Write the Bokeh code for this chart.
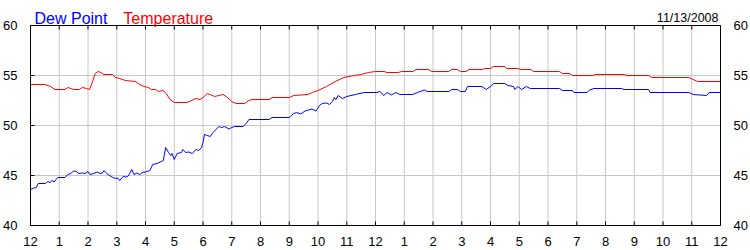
from bokeh.plotting import figure
from bokeh.models import Range1d, LinearAxis, FixedTicker, Label
from bokeh.embed import file_html
from bokeh.resources import INLINE

# ---- data (hours since midnight, degrees F) ----
temp_hours = [0.0, 0.5, 0.7, 0.85, 1.2, 1.3, 1.4, 1.5, 1.7, 1.8, 1.95, 2.05, 2.15, 2.25, 2.35, 2.45,
              2.55, 2.85, 2.95, 3.1, 3.3, 3.65, 3.8, 3.95, 4.1, 4.2, 4.35, 4.45, 4.6, 4.7, 4.85, 5.0,
              5.45, 5.6, 5.75, 5.9, 6.0, 6.15, 6.25, 6.4, 6.55, 6.7, 6.85, 7.0, 7.15, 7.45, 7.6, 7.7,
              8.3, 8.4, 9.0, 9.15, 9.65, 9.8, 10.0, 10.3, 10.6, 10.9, 11.25, 11.5, 11.75, 12.0,
              12.3, 12.4, 12.8, 12.9, 13.3, 13.4, 13.85, 13.95, 14.55, 14.65, 14.85, 14.95, 15.15,
              15.25, 15.7, 15.8, 16.0, 16.1, 16.5, 16.55, 16.95, 17.05, 17.4, 17.5, 18.4, 18.5,
              18.75, 18.85, 19.55, 19.65, 20.65, 20.75, 21.5, 21.6, 22.9, 23.2, 24.0]
temperature = [54.1, 54.1, 53.9, 53.6, 53.6, 53.8, 53.7, 53.6, 53.6, 53.8, 53.7, 53.6, 54.3, 55.2, 55.4, 55.3,
               55.1, 55.1, 54.8, 54.7, 54.5, 54.4, 54.1, 53.9, 53.8, 53.6, 53.6, 53.4, 53.5, 53.3, 52.6, 52.3,
               52.3, 52.5, 52.7, 52.6, 52.8, 53.2, 53.1, 52.9, 53.0, 53.1, 52.8, 52.4, 52.2, 52.2, 52.5, 52.6,
               52.6, 52.8, 52.8, 53.0, 53.1, 53.3, 53.5, 53.9, 54.4, 54.8, 55.0, 55.1, 55.3, 55.4,
               55.4, 55.3, 55.3, 55.4, 55.4, 55.6, 55.6, 55.4, 55.4, 55.6, 55.6, 55.4, 55.4,
               55.6, 55.6, 55.7, 55.7, 55.9, 55.9, 55.7, 55.7, 55.6, 55.6, 55.4, 55.4, 55.2,
               55.2, 55.0, 55.0, 55.1, 55.1, 55.0, 55.0, 54.8, 54.8, 54.4, 54.4]

dew_hours = [0.0, 0.12, 0.2, 0.27, 0.52, 0.6, 0.68, 0.75, 0.82, 0.88, 0.95, 1.2, 1.3, 1.4, 1.5, 1.6,
             1.68, 1.8, 1.9, 2.0, 2.07, 2.2, 2.32, 2.42, 2.5, 2.56, 2.65, 2.8, 2.9, 3.05, 3.1, 3.22,
             3.32, 3.4, 3.45, 3.52, 3.6, 3.7, 3.8, 3.9, 4.0, 4.15, 4.25, 4.4, 4.55, 4.62, 4.7, 4.8,
             4.88, 4.92, 5.0, 5.1, 5.25, 5.3, 5.4, 5.5, 5.63, 5.75, 5.85, 5.95, 6.0, 6.05, 6.15,
             6.25, 6.35, 6.45, 6.55, 6.65, 6.75, 6.9, 7.0, 7.1, 7.4, 7.5, 7.6, 8.3, 8.4, 9.0, 9.05,
             9.15, 9.25, 9.4, 9.55, 9.8, 9.93, 10.05, 10.15, 10.3, 10.4, 10.5, 10.57, 10.62, 10.7,
             10.85, 11.0, 11.3, 11.6, 12.05, 12.15, 12.2, 12.28, 12.4, 12.55, 12.7, 12.85, 13.3,
             13.45, 13.7, 13.8, 14.55, 14.65, 14.85, 14.95, 15.12, 15.2, 15.7, 15.85, 16.0, 16.12,
             16.5, 16.6, 16.8, 16.85, 16.95, 17.08, 17.25, 17.38, 18.4, 18.5, 18.85, 18.9, 19.35,
             19.45, 19.6, 20.55, 20.65, 21.5, 21.55, 22.9, 23.05, 23.52, 23.6, 24.0]
dew_point = [43.6, 43.75, 43.8, 44.2, 44.2, 44.4, 44.3, 44.5, 44.35, 44.6, 44.8, 44.8, 45.1, 45.2, 45.45, 45.4,
             45.2, 45.25, 45.2, 45.4, 45.1, 45.2, 45.35, 45.2, 45.25, 45.5, 45.2, 44.9, 44.75, 44.7, 44.5, 44.9,
             44.85, 44.95, 45.2, 45.6, 45.1, 45.25, 45.1, 45.3, 45.35, 45.5, 46.1, 46.2, 46.4, 46.5, 47.8, 47.3,
             47.0, 47.2, 46.6, 47.2, 47.3, 47.6, 47.3, 47.35, 47.2, 47.6, 47.5, 47.8, 48.3, 49.1, 49.0,
             48.9, 49.3, 49.6, 49.9, 49.8, 49.9, 49.65, 49.8, 49.9, 49.9, 50.2, 50.6, 50.6, 50.8, 50.8, 50.9,
             51.2, 51.3, 51.15, 51.45, 51.65, 51.45, 52.0, 52.2, 52.25, 52.1, 52.4, 52.8, 52.6, 53.0,
             52.7, 52.9, 53.1, 53.3, 53.3, 53.4, 53.3, 53.0, 53.3, 53.05, 53.3, 53.1, 53.1,
             53.3, 53.55, 53.4, 53.4, 53.6, 53.6, 53.4, 53.4, 53.9, 53.9, 53.6, 53.9, 54.2,
             54.2, 54.0, 53.9, 53.6, 53.9, 53.6, 53.9, 53.7, 53.7, 53.5, 53.5, 53.3, 53.3,
             53.55, 53.7, 53.7, 53.6, 53.6, 53.3, 53.3, 53.1, 53.0, 53.3, 53.3]

x_ticks = list(range(25))
x_tick_labels = ["12", "1", "2", "3", "4", "5", "6", "7", "8", "9", "10", "11",
                 "12", "1", "2", "3", "4", "5", "6", "7", "8", "9", "10", "11", "12"]
y_ticks = [40, 45, 50, 55, 60]
series_names = ["Dew Point", "Temperature"]
date_text = "11/13/2008"

FONT = "Liberation Sans"
GRID = "#c8c8c8"

x0, x1 = x_ticks[0], x_ticks[-1]
y0, y1 = y_ticks[0], y_ticks[-1]
px_x = 1 / 28.75          # one pixel in hours
px_y = 0.1                # one pixel in degrees
# frame spans the whole top strip so the header texts are not clipped
p = figure(width=750, height=250, output_backend="svg", toolbar_location=None,
           x_range=Range1d(x0 - px_x, x1 + px_x), y_range=Range1d(y0 - px_y, y1 + 25 * px_y),
           min_border_left=29, min_border_right=29, min_border_top=0, min_border_bottom=24)
p.background_fill_color = "white"
p.border_fill_color = "white"
p.outline_line_color = None
p.grid.visible = False

p.xaxis.ticker = FixedTicker(ticks=x_ticks)
p.xaxis.major_label_overrides = {t: l for t, l in zip(x_ticks, x_tick_labels)}
p.yaxis.ticker = FixedTicker(ticks=y_ticks)
right_axis = LinearAxis(ticker=FixedTicker(ticks=y_ticks))
p.add_layout(right_axis, "right")

for ax in p.xaxis + p.yaxis + [right_axis]:
    ax.axis_line_color = None
    ax.major_tick_line_color = None
    ax.minor_tick_line_color = None
    ax.major_label_text_font = FONT
    ax.major_label_text_font_size = "13px"
    ax.major_label_text_color = "black"
p.xaxis.major_label_standoff = 4
p.yaxis.major_label_standoff = 6
right_axis.major_label_standoff = 6

# grid lines (one per tick), limited to the plotting box
n_x, n_y = len(x_ticks), len(y_ticks)
p.segment(x0=x_ticks, y0=[y0] * n_x, x1=x_ticks, y1=[y1] * n_x, line_color=GRID, line_width=1)
p.segment(x0=[x0] * n_y, y0=y_ticks, x1=[x1] * n_y, y1=y_ticks, line_color=GRID, line_width=1)

p.line(dew_hours, dew_point, line_color="#0000ff", line_width=1)
p.line(temp_hours, temperature, line_color="#ff0000", line_width=1)

# inward tick marks: bottom, top and left edges
tick_len = 4
p.segment(x0=x_ticks, y0=[y0] * n_x, x1=x_ticks, y1=[y0 + tick_len * px_y] * n_x,
          line_color="black", line_width=1)
p.segment(x0=x_ticks, y0=[y1] * n_x, x1=x_ticks, y1=[y1 - tick_len * px_y] * n_x,
          line_color="black", line_width=1)
p.segment(x0=[x0] * n_y, y0=y_ticks, x1=[x0 + tick_len * px_x] * n_y, y1=y_ticks,
          line_color="black", line_width=1)

# black box
p.quad(left=[x0], right=[x1], bottom=[y0], top=[y1], fill_color=None,
       line_color="black", line_width=1)

title_y = y1 + 7.5 * px_y
p.add_layout(Label(x=0.14, y=title_y, text=series_names[0], text_color="#0000ff",
                   text_font=FONT, text_font_size="16px", text_baseline="alphabetic"))
p.add_layout(Label(x=3.23, y=title_y, text=series_names[1], text_color="#ff0000",
                   text_font=FONT, text_font_size="16px", text_baseline="alphabetic"))
p.add_layout(Label(x=23.93, y=title_y, text=date_text, text_color="black",
                   text_font=FONT, text_font_size="12.5px", text_align="right",
                   text_baseline="alphabetic"))

open("out.html", "w").write(file_html(p, INLINE))
